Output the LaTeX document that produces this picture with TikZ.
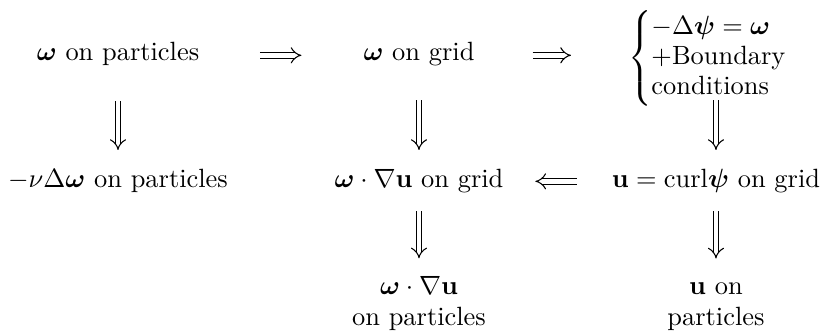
\documentclass[tikz,border=0pt]{standalone}
\usepackage{amsmath,amssymb}
\usepackage{tikz}
\usetikzlibrary{arrows.meta, calc}
\tikzset{
  txt/.style={inner sep=0pt, outer sep=0pt, anchor=base, align=center},
  imp/.style={double, double distance=1.75pt, line width=0.4pt, -{Implies}},
}

\begin{document}
\begin{tikzpicture}
  \useasboundingbox (0,0) rectangle (10.917,-4.447);

  \node[txt] (wpart) at (1.571,-0.812) {$\boldsymbol{\omega}$ on particles};
  \node[txt] (wgrid) at (5.578,-0.812) {$\boldsymbol{\omega}$ on grid};
  \node[txt, anchor=base west] (poisson) at (8.361,-0.865)
    {\renewcommand{\arraystretch}{0.96}$\left\{\begin{array}{@{}l@{}}
      -\Delta\boldsymbol{\psi}=\boldsymbol{\omega}\\
      +\text{Boundary}\\
      \text{conditions}
    \end{array}\right.$};

  \node[txt] (diff) at (1.571,-2.490) {$-\nu\Delta\boldsymbol{\omega}$ on particles};
  \node[txt] (stretch) at (5.578,-2.490) {$\boldsymbol{\omega}\cdot\nabla\mathbf{u}$ on grid};
  \node[txt] (vel) at (9.532,-2.490) {$\mathbf{u}=\mathrm{curl}\boldsymbol{\psi}$ on grid};

  \node[txt] (stretchp) at (5.578,-4.340) {$\boldsymbol{\omega}\cdot\nabla\mathbf{u}$\\on particles};
  \node[txt] (velp) at (9.532,-4.340) {$\mathbf{u}$ on\\particles};

  \draw[imp, shorten <=23pt, shorten >=23.5pt] (wpart.mid east) -- (wgrid.mid west);
  \draw[imp, shorten <=22pt, shorten >=21.6pt] (wgrid.mid east) -- (wgrid.mid east -| poisson.west);
  \draw[imp, shorten <=13.3pt, shorten >=12.1pt] (vel.mid west) -- (stretch.mid east);

  \draw[imp, shorten <=13.3pt, shorten >=7.1pt] (wpart) -- (diff);
  \draw[imp, shorten <=12.9pt, shorten >=7.1pt] (wgrid) -- (stretch);
  \draw[imp, shorten <=-2.2pt, shorten >=7.1pt] (poisson.south -| vel.north) -- (vel.north);
  \draw[imp, shorten <=7.2pt, shorten >=6.8pt] (stretch) -- (stretchp);
  \draw[imp, shorten <=7.2pt, shorten >=9.1pt] (vel) -- (velp);
\end{tikzpicture}
\end{document}
